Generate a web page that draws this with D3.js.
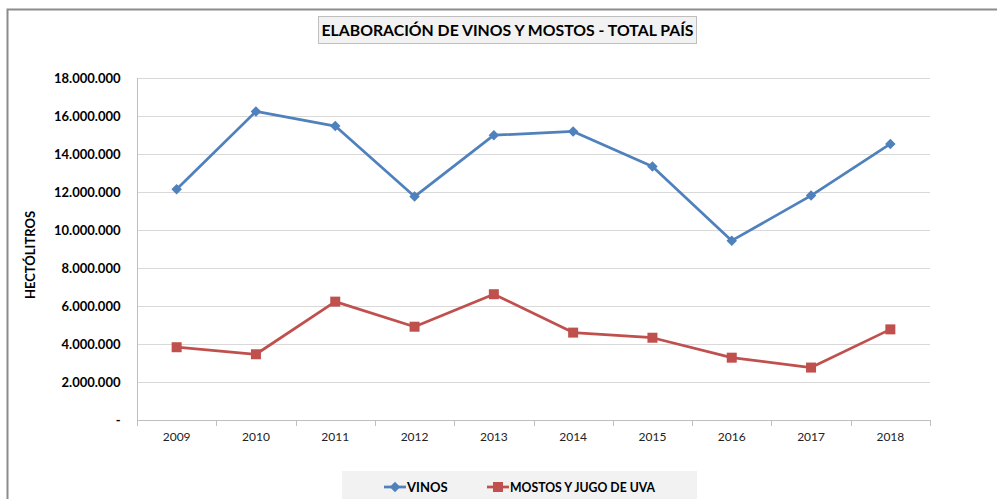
<!DOCTYPE html>
<html><head><meta charset="utf-8">
<script src="https://cdn.jsdelivr.net/npm/d3@7"></script>
<style>
body{margin:0;background:#fff;}
svg{display:block;font-family:Lato,"Open Sans",sans-serif;}
</style></head>
<body>
<svg id="chart" width="997" height="499"></svg>
<script>
const years = ["2009","2010","2011","2012","2013","2014","2015","2016","2017","2018"];
const vinos = [12140000,16240000,15470000,11760000,14990000,15190000,13340000,9440000,11810000,14530000];
const mostos = [3830000,3460000,6230000,4910000,6620000,4600000,4330000,3280000,2760000,4770000];
const yTicks = [0,2000000,4000000,6000000,8000000,10000000,12000000,14000000,16000000,18000000];
const title = "ELABORACIÓN DE VINOS Y MOSTOS - TOTAL PAÍS";
const yLabel = "HECTÓLITROS";
const seriesNames = ["VINOS","MOSTOS Y JUGO DE UVA"];
const colors = ["#4F81BD","#C0504D"];

const svg = d3.select("#chart");
// outer frame
svg.append("path").attr("d","M7.5,499 V9.5 H997").attr("fill","none").attr("stroke","#8c8c8c").attr("stroke-width",2);

const x = d3.scaleBand().domain(years).range([137,930]);
const y = d3.scaleLinear().domain([0,18000000]).range([420,78]);

// gridlines
svg.append("g").selectAll("line").data(yTicks.slice(1)).join("line")
  .attr("x1",137).attr("x2",930).attr("y1",d=>Math.round(y(d))+0.5).attr("y2",d=>Math.round(y(d))+0.5)
  .attr("stroke","#d9d9d9").attr("stroke-width",1.2);

// y axis
const fmt = d => d===0 ? "-" : d3.format(",")(d).replace(/,/g,".");
const ya = svg.append("g").attr("transform","translate(137.5,0)")
  .call(d3.axisLeft(y).tickValues(yTicks).tickFormat(fmt).tickSize(0).tickPadding(17));
ya.select(".domain").attr("stroke","#bfbfbf").attr("d","M0,78V425");
ya.selectAll("text").attr("font-size","13px").attr("font-weight","bold").attr("fill","#000")
  .attr("font-family",'Lato,"Open Sans",sans-serif');

// x axis
const xa = svg.append("g").attr("transform","translate(0,420.5)")
  .call(d3.axisBottom(x).tickSize(0).tickPadding(12));
xa.select(".domain").attr("stroke","#bfbfbf").attr("d","M137,0H930");
xa.selectAll("text").attr("font-size","12px").attr("fill","#222")
  .attr("font-family",'Lato,"Open Sans",sans-serif');
svg.append("g").selectAll("line").data(years.concat(["end"])).join("line")
  .attr("x1",(d,i)=>Math.round(137+i*x.bandwidth())+0.5).attr("x2",(d,i)=>Math.round(137+i*x.bandwidth())+0.5)
  .attr("y1",420).attr("y2",426).attr("stroke","#bfbfbf");

// y label
svg.append("text").attr("transform","translate(35,255) rotate(-90)").attr("text-anchor","middle")
  .attr("font-size","13px").attr("font-weight","bold").text(yLabel);

// lines
const cx = d => x(d)+x.bandwidth()/2;
const line = d3.line().x((d,i)=>cx(years[i])).y(d=>y(d));
[vinos,mostos].forEach((s,k)=>{
  svg.append("path").datum(s).attr("d",line).attr("fill","none").attr("stroke",colors[k])
    .attr("stroke-width",2.75).attr("stroke-linejoin","round");
});
const diamond = d3.symbol().type(d3.symbolDiamond2).size(70);
svg.append("g").selectAll("path").data(vinos).join("path")
  .attr("transform",(d,i)=>`translate(${cx(years[i])},${y(d)})`).attr("d",diamond).attr("fill",colors[0]);
svg.append("g").selectAll("rect").data(mostos).join("rect")
  .attr("x",(d,i)=>cx(years[i])-5).attr("y",d=>y(d)-5).attr("width",10).attr("height",10).attr("fill",colors[1]);

// title
svg.append("rect").attr("x",318.5).attr("y",16.5).attr("width",378).attr("height",27)
  .attr("fill","#f2f2f2").attr("stroke","#bfbfbf");
svg.append("text").attr("x",507.5).attr("y",36).attr("text-anchor","middle")
  .attr("font-size","16px").attr("font-weight","bold").attr("fill","#000")
  .attr("textLength",372).attr("lengthAdjust","spacingAndGlyphs").text(title);

// legend
svg.append("rect").attr("x",342).attr("y",471).attr("width",355).attr("height",28).attr("fill","#f2f2f2");
const lg = [{x0:384,x1:406,tx:407,w:null},{x0:487,x1:509,tx:510,w:145}];
lg.forEach((o,k)=>{
  svg.append("line").attr("x1",o.x0).attr("x2",o.x1).attr("y1",487).attr("y2",487)
    .attr("stroke",colors[k]).attr("stroke-width",2.75);
  if(k===0) svg.append("path").attr("transform",`translate(${(o.x0+o.x1)/2},487)`).attr("d",diamond).attr("fill",colors[0]);
  else svg.append("rect").attr("x",(o.x0+o.x1)/2-5).attr("y",482).attr("width",10).attr("height",10).attr("fill",colors[1]);
  const t = svg.append("text").attr("x",o.tx).attr("y",492).attr("font-size","13px").attr("font-weight","bold").text(seriesNames[k]);
  if(o.w) t.attr("textLength",o.w).attr("lengthAdjust","spacingAndGlyphs");
});
</script>
</body></html>
